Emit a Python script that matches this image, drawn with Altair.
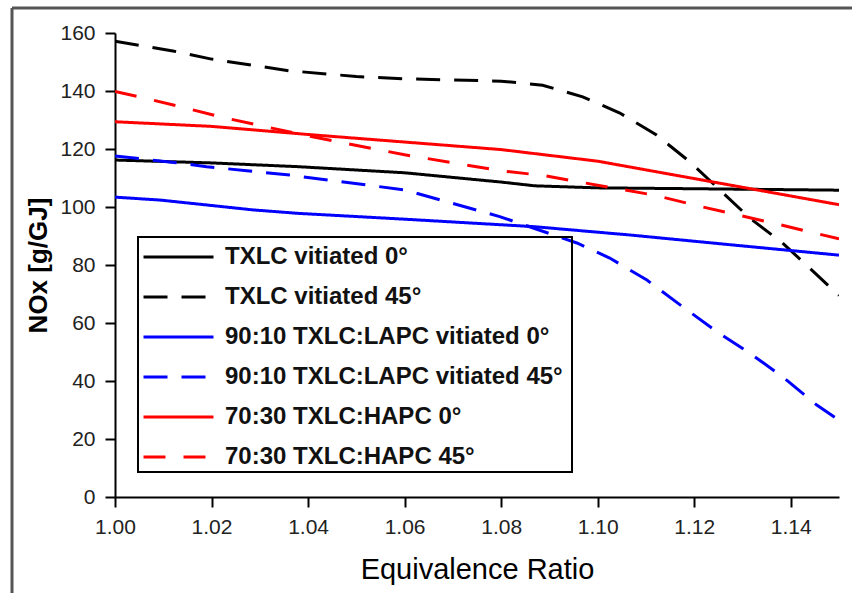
import altair as alt
import pandas as pd

SERIES = [
    "TXLC vitiated 0°",
    "TXLC vitiated 45°",
    "90:10 TXLC:LAPC vitiated 0°",
    "90:10 TXLC:LAPC vitiated 45°",
    "70:30 TXLC:HAPC 0°",
    "70:30 TXLC:HAPC 45°",
]
COLORS = ["#000000", "#000000", "#0000ff", "#0000ff", "#ff0000", "#ff0000"]
DASHES = [[1, 0], [24, 14], [1, 0], [24, 14], [1, 0], [22, 18]]
WIDTHS = [3, 3, 3, 3, 3, 2]

# TXLC vitiated 0°
txlc0_x = [1.00, 1.02, 1.038, 1.06, 1.08, 1.087, 1.10, 1.12, 1.15]
txlc0_y = [116.2, 115.2, 113.9, 111.8, 108.6, 107.3, 106.6, 106.3, 105.8]
# TXLC vitiated 45°
txlc45_x = [1.00, 1.012, 1.02, 1.036, 1.05, 1.06, 1.08, 1.0886, 1.0969, 1.1046,
            1.1122, 1.1191, 1.1315, 1.1383, 1.15]
txlc45_y = [157.2, 153.8, 151.0, 147.0, 145.0, 144.2, 143.4, 142.0, 138.0, 132.4,
            124.8, 115.6, 96.2, 87.6, 69.5]
# 90:10 TXLC:LAPC vitiated 0°
lapc0_x = [1.00, 1.0093, 1.019, 1.0286, 1.038, 1.06, 1.087, 1.107, 1.128, 1.15]
lapc0_y = [103.4, 102.4, 100.7, 99.0, 97.8, 95.8, 93.2, 90.3, 86.9, 83.4]
# 90:10 TXLC:LAPC vitiated 45°
lapc45_x = [1.00, 1.0135, 1.019, 1.0273, 1.0362, 1.06, 1.0797, 1.0957, 1.1025,
            1.1102, 1.1176, 1.1247, 1.1315, 1.1383, 1.1454, 1.15]
lapc45_y = [117.6, 115.1, 113.9, 112.5, 111.0, 105.9, 96.7, 87.6, 82.4,
            74.8, 65.6, 57.0, 49.6, 41.5, 31.7, 26.5]
# 70:30 TXLC:HAPC 0°
hapc0_x = [1.00, 1.02, 1.04, 1.06, 1.08, 1.10, 1.12, 1.135, 1.15]
hapc0_y = [129.4, 127.8, 125.0, 122.4, 119.8, 115.8, 109.8, 105.3, 100.8]
# 70:30 TXLC:HAPC 45°
hapc45_x = [1.00, 1.005, 1.013, 1.022, 1.04, 1.06, 1.08, 1.089, 1.097, 1.112,
            1.121, 1.138, 1.15]
hapc45_y = [139.8, 138.0, 134.8, 131.0, 124.5, 118.0, 112.5, 110.8, 108.4, 104.0,
            100.3, 93.8, 89.0]

X_TICKS = [1.00, 1.02, 1.04, 1.06, 1.08, 1.10, 1.12, 1.14]
Y_TICKS = [0, 20, 40, 60, 80, 100, 120, 140, 160]

rows = []
for name, xs, ys in zip(SERIES,
                        [txlc0_x, txlc45_x, lapc0_x, lapc45_x, hapc0_x, hapc45_x],
                        [txlc0_y, txlc45_y, lapc0_y, lapc45_y, hapc0_y, hapc45_y]):
    for xv, yv in zip(xs, ys):
        rows.append({"series": name, "eq": xv, "nox": yv})
df = pd.DataFrame(rows)

LABEL_FONT = "Liberation Sans, Arial"
legend = alt.Legend(
    title=None, orient="none", legendX=20, legendY=205,
    symbolType="stroke", symbolSize=4900, clipHeight=24,
    labelFont="Liberation Sans", labelFontSize=24, labelFontWeight="bold",
    labelColor="#111", labelOffset=10, labelLimit=600,
    rowPadding=16, padding=7,
)

lines = alt.Chart(df).mark_line(clip=True).encode(
    x=alt.X("eq:Q",
            scale=alt.Scale(domain=[1.0, 1.15], nice=False, zero=False),
            axis=alt.Axis(values=X_TICKS, format=".2f", title="Equivalence Ratio",
                          titleX=362, titleY=81, titleBaseline="alphabetic",
                          titleAlign="center", titleFontSize=29,
                          titleFontWeight="normal", titleFont="Liberation Sans",
                          labelPadding=9)),
    y=alt.Y("nox:Q",
            scale=alt.Scale(domain=[0, 160], nice=False),
            axis=alt.Axis(values=Y_TICKS, title="NOx [g/GJ]",
                          titleAngle=270, titleX=-77, titleY=232,
                          titleAlign="center", titleBaseline="middle",
                          titleFontSize=26, titleFontWeight="bold",
                          titleFont="Liberation Sans", labelPadding=10)),
    color=alt.Color("series:N", sort=SERIES,
                    scale=alt.Scale(domain=SERIES, range=COLORS), legend=legend),
    strokeDash=alt.StrokeDash("series:N", sort=SERIES,
                              scale=alt.Scale(domain=SERIES, range=DASHES),
                              legend=legend),
    strokeWidth=alt.StrokeWidth("series:N", sort=SERIES,
                                scale=alt.Scale(domain=SERIES, range=WIDTHS),
                                legend=legend),
)

deco = pd.DataFrame({"k": [0]})
legend_box = alt.Chart(deco).mark_rect(fill=None, stroke="black", strokeWidth=2).encode(
    x=alt.value(23), x2=alt.value(457), y=alt.value(204), y2=alt.value(439)
)
frame_left = alt.Chart(deco).mark_rule(color="#555", strokeWidth=3).encode(
    x=alt.value(-103), y=alt.value(-25), y2=alt.value(570)
)
frame_top = alt.Chart(deco).mark_rule(color="#555", strokeWidth=3).encode(
    y=alt.value(-25), x=alt.value(-103), x2=alt.value(760)
)

chart = alt.layer(lines, legend_box, frame_left, frame_top).properties(
    width=724, height=464,
    padding={"left": 115, "top": 33, "right": 13, "bottom": 96},
    autosize=alt.AutoSizeParams(type="none"),
).configure_view(stroke=None).configure_axis(
    grid=False, domainColor="black", domainWidth=2, tickColor="black",
    tickWidth=2, tickSize=10, labelFont=LABEL_FONT, labelFontSize=21,
    labelColor="#222", labelFlush=False, labelOverlap=False, titleColor="black",
)

chart.save("out.html", embed_options={"renderer": "svg", "actions": False})
